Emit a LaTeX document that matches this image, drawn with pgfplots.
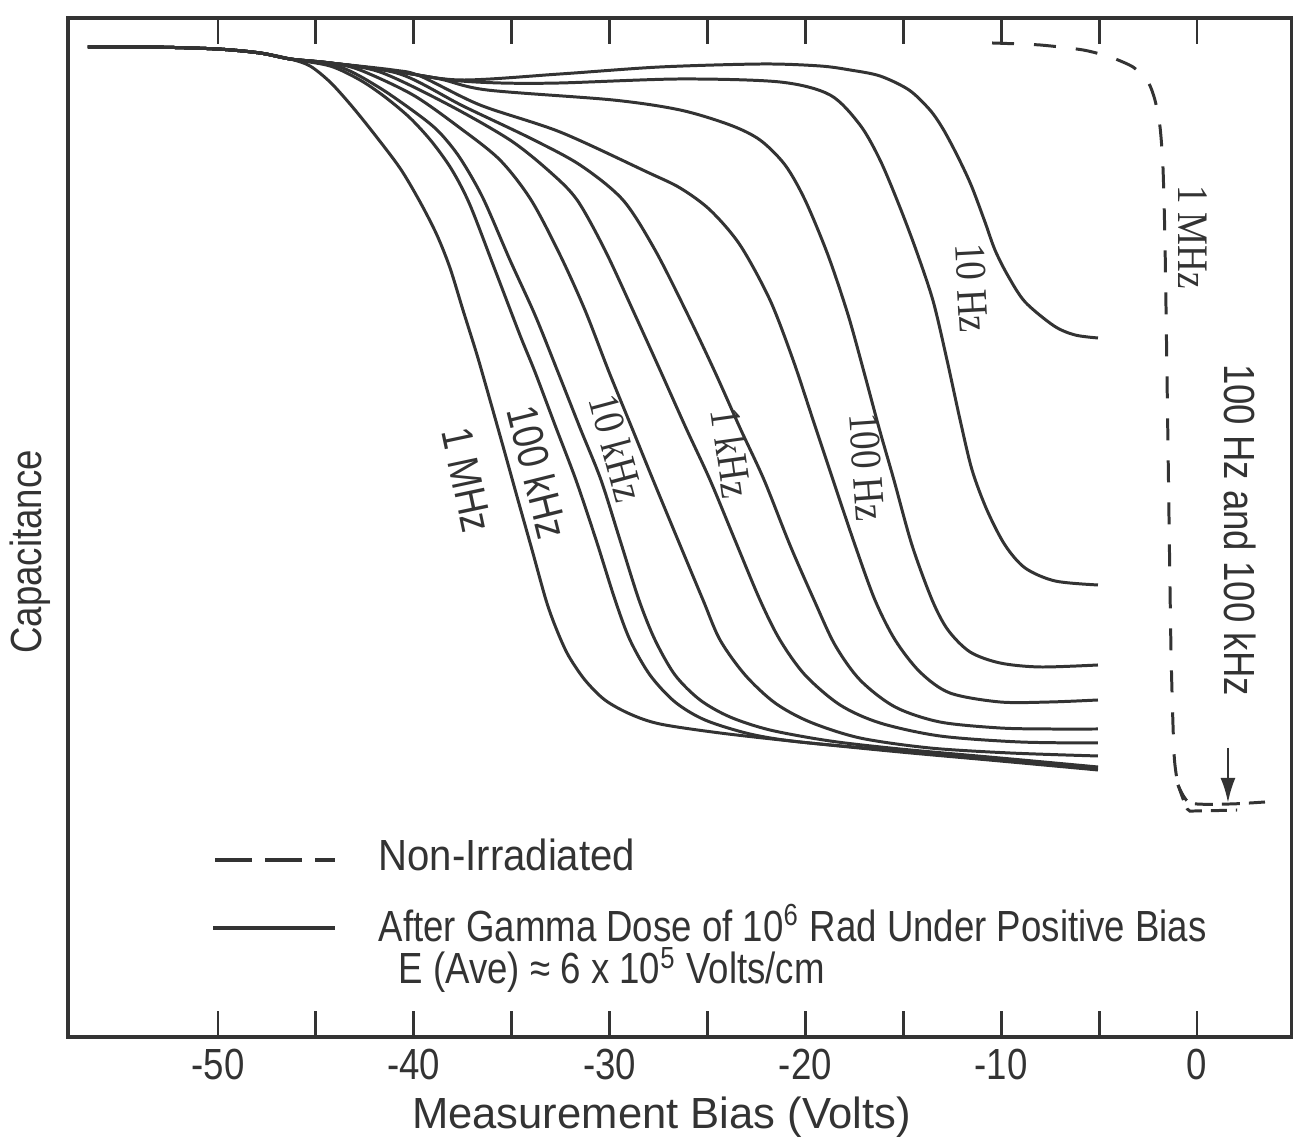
\documentclass[border=0pt]{standalone}
\usepackage{fontspec}
\setmainfont{Liberation Sans}[FakeStretch=0.84]
\newfontfamily\widesans{Liberation Sans}
\newfontfamily\midsans{Liberation Sans}[FakeStretch=0.92]
\newfontfamily\serifl{Liberation Serif}[FakeStretch=0.85]
\usepackage{pgfplots}
\pgfplotsset{compat=1.18}
\usetikzlibrary{arrows.meta}
\definecolor{ink}{HTML}{333333}
\newcommand\fs{\fontsize{12.4}{14}\selectfont}
\pgfplotsset{cv/.style={ink, line width=0.85pt, smooth, tension=0.5, no markers, forget plot}}

\begin{document}
\begin{tikzpicture}
\begin{axis}[
    name=ax,
    width=122.4mm, height=101.9mm, scale only axis,
    xmin=-57.66, xmax=4.85, ymin=0, ymax=101.9,
    xtick={-50,-40,-30,-20,-10,0},
    xticklabels={-50,-40,-30,-20,-10,0},
    minor xtick={-45,-35,-25,-15,-5},
    ytick=\empty,
    tick align=inside,
    major tick length=2.6mm, minor tick length=2.6mm,
    tick style={ink, line width=0.8pt},
    axis line style={ink, line width=1.1pt},
    ticklabel style={font=\fs, text=ink},
    xlabel={\widesans Measurement Bias (Volts)},
    ylabel={Capacitance},
    label style={font=\fs, text=ink},
    xlabel style={at={(axis description cs:0.485,-0.0785)}, anchor=center},
    ylabel style={at={(axis description cs:-0.031,0.476)}, anchor=center},
]

% 1 MHz
\addplot[cv] coordinates {
(-56.64,99.0) (-53.47,99.0) (-50.05,98.8) (-47.86,98.4) (-46.32,97.8) (-45.30,97.1)
(-44.28,95.5) (-43.26,93.3) (-42.14,90.6) (-40.71,86.9) (-39.68,83.5) (-38.82,80.2)
(-38.15,76.9) (-37.49,72.7) (-36.77,68.2) (-36.11,63.7) (-35.39,58.7) (-34.68,53.7)
(-33.96,48.7) (-33.25,43.7) (-32.74,40.9) (-32.12,38.2) (-31.26,35.7) (-30.24,33.7)
(-28.96,32.3) (-27.43,31.3) (-24.36,30.4) (-20.28,29.5) (-15.17,28.5) (-10.06,27.6)
(-5.06,26.7)};
% 100 kHz
\addplot[cv] coordinates {
(-56.64,99.0) (-53.47,99.0) (-50.05,98.8) (-47.86,98.4) (-46.32,97.8)
(-44.28,97.1) (-42.75,95.7) (-41.47,94.0) (-40.19,91.9) (-39.07,89.5) (-38.05,86.7)
(-37.13,83.2) (-35.85,76.7) (-34.58,70.2) (-33.81,66.5) (-32.79,61.2) (-31.72,55.7)
(-30.69,49.7) (-29.72,43.7) (-28.96,39.7) (-27.94,36.2) (-26.66,33.5) (-25.13,31.7)
(-22.83,30.3) (-20.28,29.5) (-15.17,28.6) (-10.06,27.7) (-5.06,26.9)};
% intermediate
\addplot[cv] coordinates {
(-56.64,99.0) (-53.47,99.0) (-50.05,98.8) (-47.86,98.4) (-46.32,97.8)
(-43.77,97.0) (-41.73,94.9) (-39.68,92.1) (-38.66,90.4) (-37.64,87.9) (-36.47,83.9)
(-35.09,77.7) (-33.81,72.2) (-32.64,66.5) (-31.51,60.9) (-30.44,55.7) (-29.47,49.7)
(-28.50,43.7) (-27.68,39.7) (-26.66,36.2) (-25.38,33.7) (-23.85,32.0) (-21.81,30.7)
(-18.74,29.6) (-15.17,28.8) (-10.06,27.9) (-5.06,27.0)};
% 10 kHz
\addplot[cv] coordinates {
(-56.64,99.0) (-53.47,99.0) (-50.05,98.8) (-47.86,98.4) (-46.32,97.8)
(-44.28,97.4) (-42.75,96.7) (-40.04,94.2) (-37.64,90.9) (-35.60,87.7) (-34.01,83.7)
(-32.53,78.2) (-31.26,72.7) (-30.03,66.5) (-28.86,60.9) (-27.78,55.7) (-26.51,49.7)
(-25.23,43.7) (-24.36,39.7) (-23.08,36.2) (-21.55,33.4) (-19.77,31.5) (-17.21,29.9)
(-13.64,28.9) (-9.55,28.4) (-5.06,28.1)};
% intermediate
\addplot[cv] coordinates {
(-56.64,99.0) (-53.47,99.0) (-50.05,98.8) (-47.86,98.4) (-46.32,97.8)
(-44.28,97.4) (-41.73,96.5) (-38.30,93.3) (-35.09,89.7) (-33.04,86.5) (-31.66,83.7)
(-30.24,78.7) (-28.70,72.2) (-27.38,66.5) (-26.10,60.9) (-24.87,55.7) (-23.60,49.7)
(-22.32,43.7) (-21.30,39.7) (-20.02,36.2) (-18.23,33.2) (-16.19,31.4) (-13.13,30.1)
(-9.04,29.5) (-5.06,29.4)};
% 1 kHz
\addplot[cv] coordinates {
(-56.64,99.0) (-53.47,99.0) (-50.05,98.8) (-47.86,98.4) (-46.32,97.8)
(-44.28,97.4) (-40.71,96.3) (-37.49,93.1) (-34.07,89.9) (-31.51,87.2) (-29.32,83.7)
(-27.68,78.7) (-26.00,72.2) (-24.62,66.5) (-23.34,60.9) (-22.11,55.7) (-20.79,49.2)
(-19.56,43.7) (-18.49,39.2) (-17.21,35.7) (-15.42,33.0) (-13.13,31.5) (-10.06,30.9)
(-7.51,30.8) (-5.06,30.8)};
% intermediate
\addplot[cv] coordinates {
(-56.64,99.0) (-53.47,99.0) (-50.05,98.8) (-47.86,98.4) (-46.32,97.8)
(-44.28,97.4) (-41.06,96.7) (-39.68,96.1) (-36.62,93.2) (-32.53,90.5) (-28.09,86.5)
(-26.40,84.9) (-24.87,82.7) (-23.34,79.2) (-21.81,73.7) (-20.63,67.7) (-19.61,61.7)
(-18.59,55.7) (-17.47,49.2) (-16.45,43.7) (-15.42,39.7) (-14.15,36.5) (-12.62,34.4)
(-10.06,33.5) (-7.51,33.5) (-5.06,33.7)};
% 100 Hz
\addplot[cv] coordinates {
(-56.64,99.0) (-53.47,99.0) (-50.05,98.8) (-47.86,98.4) (-46.32,97.8)
(-44.28,97.4) (-41.06,96.6) (-38.66,95.8) (-36.26,94.7) (-29.83,93.7) (-26.40,92.7)
(-23.85,91.2) (-22.32,89.7) (-21.04,87.2) (-20.02,83.7) (-18.85,78.2) (-17.82,72.2)
(-17.01,66.5) (-16.24,60.9) (-15.48,55.7) (-14.56,49.2) (-13.53,43.7) (-12.72,40.7)
(-11.59,38.5) (-10.06,37.4) (-8.02,37.0) (-5.06,37.2)};
% intermediate
\addplot[cv] coordinates {
(-56.64,99.0) (-53.47,99.0) (-50.05,98.8) (-47.86,98.4) (-46.32,97.8)
(-44.28,97.4) (-41.06,96.6) (-38.15,95.7) (-35.60,95.4) (-32.53,95.4) (-26.40,95.8)
(-21.30,95.5) (-18.74,94.2) (-17.21,91.2) (-16.19,87.7) (-15.22,83.2) (-14.35,78.7)
(-13.48,73.6) (-12.77,67.7) (-12.10,61.7) (-11.49,56.7) (-10.73,52.7) (-9.81,49.2)
(-8.78,46.9) (-7.25,45.6) (-5.06,45.2)};
% 10 Hz
\addplot[cv] coordinates {
(-56.64,99.0) (-53.47,99.0) (-50.05,98.8) (-47.86,98.4) (-46.32,97.8)
(-44.28,97.4) (-41.06,96.6) (-37.64,95.7) (-32.53,96.3) (-27.43,97.0) (-22.17,97.3)
(-19.25,97.1) (-17.72,96.7) (-16.19,96.1) (-14.71,94.7) (-13.64,92.7) (-12.97,90.8)
(-12.26,88.2) (-11.54,85.2) (-10.83,81.5) (-10.32,78.7) (-9.65,76.1) (-8.78,73.5)
(-7.30,71.1) (-6.23,70.2) (-5.06,69.9)};

% non-irradiated
\addplot[ink, line width=0.85pt, dash pattern=on 2.2mm off 2.0mm, smooth, tension=0.4, forget plot] coordinates {
(-10.47,99.4) (-8.02,99.2) (-5.82,98.7) (-4.44,98.0) (-3.27,97.0) (-2.50,95.5)
(-2.15,93.7) (-1.89,91.0) (-1.74,87.0) (-1.63,78.7) (-1.48,58.7) (-1.33,38.7)
(-1.17,28.2) (-0.97,25.2)};
\addplot[ink, line width=0.85pt, dash pattern=on 1.8mm off 0.9mm, smooth, tension=0.4, forget plot] coordinates {
(-0.97,25.2) (-0.36,23.4) (1.69,23.3) (3.47,23.5)};
\addplot[ink, line width=0.85pt, dash pattern=on 1.6mm off 0.9mm, smooth, tension=0.4, forget plot] coordinates {
(-0.97,25.2) (-0.50,22.8) (-0.10,22.6) (2.05,22.7)};

\draw[ink, line width=0.8pt, -{Latex[length=2.5mm,width=1.5mm]}] (axis cs:1.58,28.9) -- (axis cs:1.58,23.4);

\node[font=\fs, text=ink, rotate=-78] at (axis cs:-37.28,55.7) {1 MHz};
\node[font=\fs, text=ink, rotate=-76] at (axis cs:-33.66,56.5) {100 kHz};
\node[font=\serifl\fs, text=ink, rotate=-75] at (axis cs:-29.62,58.9) {10 kHz};
\node[font=\serifl\fs, text=ink, rotate=-82] at (axis cs:-23.75,58.4) {1 kHz};
\node[font=\serifl\fs, text=ink, rotate=-86] at (axis cs:-16.85,57.0) {100 Hz};
\node[font=\serifl\fs, text=ink, rotate=-87] at (axis cs:-11.49,74.9) {10 Hz};
\node[font=\serifl\fs, text=ink, rotate=-90] at (axis cs:-0.20,80.0) {1 MHz};
\node[font=\fs, text=ink, rotate=-90] at (axis cs:2.20,50.7) {100 Hz and 100 kHz};

% key
\draw[ink, line width=0.9pt, dash pattern=on 3.7mm off 1.3mm]
    (axis description cs:0.1201,0.1737) -- (axis description cs:0.2181,0.1737);
\draw[ink, line width=1.1pt]
    (axis description cs:0.1185,0.107) -- (axis description cs:0.2181,0.107);
\node[anchor=base west, inner sep=0pt, font=\midsans\fs, text=ink]
    at (axis description cs:0.2533,0.1629) {Non-Irradiated};
\node[anchor=base west, inner sep=0pt, font=\fs, text=ink]
    at (axis description cs:0.2533,0.0942) {After Gamma Dose of 10\textsuperscript{6} Rad Under Positive Bias};
\node[anchor=base west, inner sep=0pt, font=\fs, text=ink]
    at (axis description cs:0.2696,0.052) {E (Ave) ≈ 6 x 10\textsuperscript{5} Volts/cm};
\end{axis}
\pgfresetboundingbox
\path[use as bounding box] ([xshift=-6.8mm,yshift=-10.1mm]ax.south west) rectangle ([xshift=0.1mm,yshift=1.8mm]ax.north east);
\end{tikzpicture}
\end{document}
